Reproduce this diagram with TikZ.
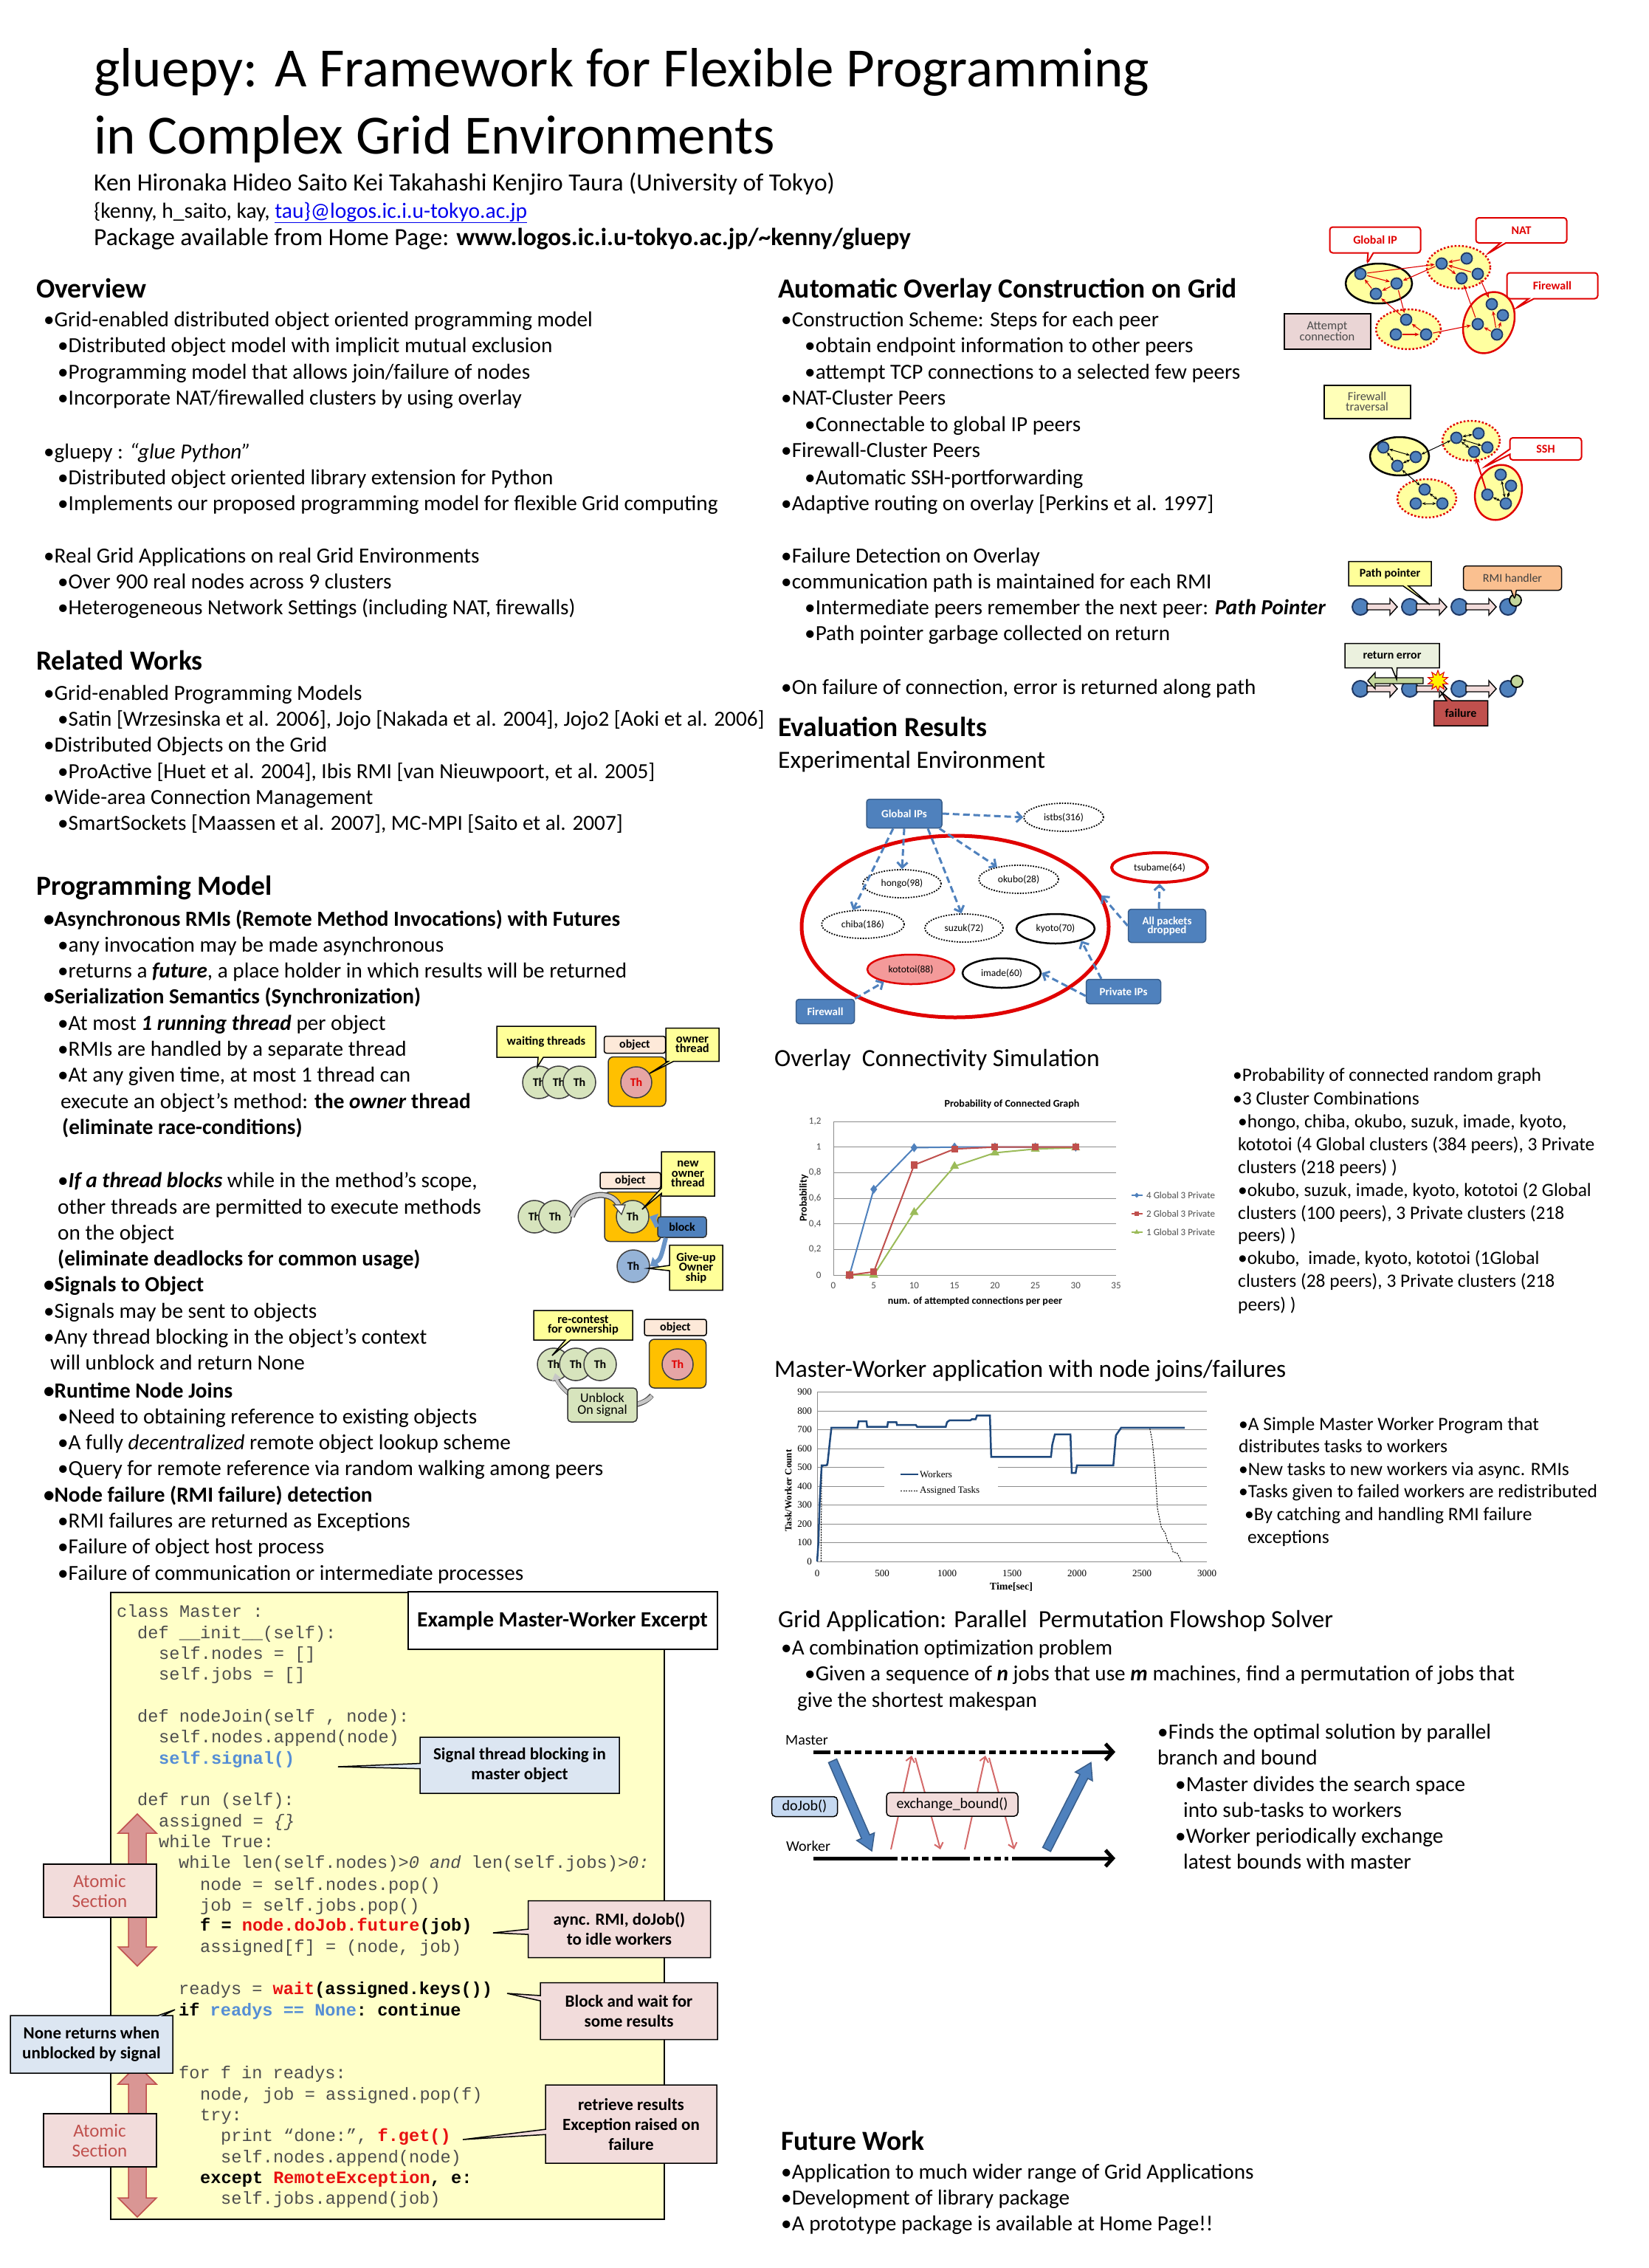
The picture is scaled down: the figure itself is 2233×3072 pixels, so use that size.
\documentclass[tikz,border=0pt]{standalone}
\usepackage{fontspec}
\setmainfont{Carlito}
\setmonofont{Liberation Mono}
\newfontfamily\timesf{Liberation Serif}
\usetikzlibrary{shapes.callouts,shapes.geometric,arrows.meta,plotmarks,calc}
\definecolor{nblue}{HTML}{4F81BD}
\definecolor{nnavy}{HTML}{1F3864}
\definecolor{bdark}{HTML}{385D8A}
\definecolor{yfill}{HTML}{FFFFA0}
\definecolor{cyel}{HTML}{FFFF99}
\definecolor{pinkf}{HTML}{F2DCDB}
\definecolor{lbluef}{HTML}{DCE6F2}
\definecolor{codebg}{HTML}{FFFFC8}
\definecolor{codegray}{HTML}{4D4D4D}
\definecolor{codeblue}{HTML}{558ED5}
\definecolor{codered}{HTML}{E81010}
\definecolor{linkblue}{HTML}{0000EE}
\definecolor{redc}{HTML}{E00000}
\definecolor{thgreen}{HTML}{D7E4BD}
\definecolor{thpink}{HTML}{E6A5A5}
\definecolor{objor}{HTML}{FFC000}
\definecolor{objlab}{HTML}{FDE9D9}
\definecolor{thblue}{HTML}{95B3D7}
\definecolor{arrpink}{HTML}{D99694}
\definecolor{arrdred}{HTML}{C0504D}
\definecolor{gridc}{HTML}{8C8C8C}
\definecolor{c1blue}{HTML}{4F81BD}
\definecolor{c1red}{HTML}{C0504D}
\definecolor{c1green}{HTML}{9BBB59}
\definecolor{wnavy}{HTML}{1F497D}
\definecolor{kotof}{HTML}{F49A9A}
\definecolor{orangef}{HTML}{FAC090}
\definecolor{retf}{HTML}{EBF1DE}
\definecolor{gretarr}{HTML}{C3D69B}
\definecolor{attf}{HTML}{EAD5D5}
\definecolor{dojobf}{HTML}{C6D9F1}
\definecolor{redthin}{HTML}{D46A6A}
\newcounter{tln}
\newcommand\Tx[3]{\stepcounter{tln}\node[txt] (tx\arabic{tln}) at (#1,#2) {#3};}
\newcommand\Hd[3]{\stepcounter{tln}\node[hd] (tx\arabic{tln}) at (#1,#2) {#3};}
\newcommand\Sx[3]{\stepcounter{tln}\node[stx] (tx\arabic{tln}) at (#1,#2) {#3};}
\newcommand\Ssub[3]{\stepcounter{tln}\node[subh] (tx\arabic{tln}) at (#1,#2) {#3};}
\newcommand\codeln[3]{\stepcounter{tln}\node[code] (cl\arabic{tln}) at (#1,#2) {#3};}
\newcommand\kb[1]{\textbf{\textcolor{black}{#1}}}
\newcommand\bi[1]{\textbf{\textit{#1}}}
\newcommand\fsz[1]{\fontsize{#1}{#1}\selectfont}
\tikzset{
 txt/.style={anchor=base west, inner sep=0pt, font=\fontsize{29.2}{35}\selectfont},
 hd/.style={anchor=base west, inner sep=0pt, font=\fontsize{37.5}{44}\selectfont\bfseries},
 subh/.style={anchor=base west, inner sep=0pt, font=\fontsize{33.5}{40}\selectfont},
 stx/.style={anchor=base west, inner sep=0pt, font=\fontsize{25.5}{30}\selectfont},
 code/.style={anchor=base west, inner sep=0pt, font=\fontsize{23.6}{28}\ttfamily, text=codegray},
 co/.style={rectangle callout, draw=black, line width=1.5pt, align=center, inner sep=1pt},
 rco/.style={rectangle callout, draw=redc, line width=2pt, fill=white, align=center, inner sep=1pt, rounded corners=4pt, text=redc, font=\fsz{16}\bfseries},
 peer/.style={circle, fill=nblue, draw=nnavy, line width=1.8pt, minimum size=15pt, inner sep=0pt},
 clg/.style={ellipse, fill=yfill, draw=black, line width=2.5pt},
 cldot/.style={ellipse, fill=yfill, draw=redc, line width=2.5pt, dash pattern=on 2.5pt off 2.5pt},
 clfw/.style={ellipse, fill=yfill, draw=redc, line width=2.5pt},
 rarr/.style={redc, line width=1.1pt, -{Stealth[length=6pt,width=5pt]}, shorten >=1pt, shorten <=1pt},
 barr/.style={black, line width=1pt, {Stealth[length=5pt,width=4pt]}-{Stealth[length=5pt,width=4pt]}},
 netbox/.style={rounded corners=4pt, fill=nblue, draw=bdark, line width=1.5pt, text=white, font=\fsz{15}\bfseries, align=center, inner sep=1pt},
 netell/.style={ellipse, draw=black, line width=1.8pt, dash pattern=on 1.8pt off 1.8pt, font=\fsz{13.5}, inner sep=0pt},
 bda/.style={nblue, line width=3pt, dash pattern=on 9pt off 5pt, -{Straight Barb[length=7pt,width=14pt]}},
 th/.style={circle, fill=thgreen, draw=black!75, line width=1.5pt, minimum size=44pt, inner sep=0pt, font=\fsz{16}\bfseries},
 objl/.style={rounded corners=3pt, fill=objlab, draw=black, line width=1.5pt, font=\fsz{16}\bfseries, inner sep=0pt},
 objb/.style={rounded corners=7pt, fill=objor, draw=black!80, line width=1.5pt},
 ycall/.style={co, fill=cyel, font=\fsz{16.5}\bfseries},
 ccall/.style={co, font=\fsz{23}\bfseries},
 chl/.style={font=\fsz{13}, text=black!70},
}
\begin{document}
\begin{tikzpicture}[x=1pt,y=-1pt]
\useasboundingbox (0,0) rectangle (2233,3072);
\fill[white] (0,0) rectangle (2233,3072);

% ---------------- Title block ----------------
\node[anchor=base west, inner sep=0pt, font=\fsz{75}] (title1) at (127,118) {gluepy: A Framework for Flexible Programming};
\node[anchor=base west, inner sep=0pt, font=\fsz{75}] (title2) at (127,208) {in Complex Grid Environments};
\node[anchor=base west, inner sep=0pt, font=\fsz{33.5}] (auth) at (127,258) {Ken Hironaka Hideo Saito Kei Takahashi Kenjiro Taura (University of Tokyo)};
\node[anchor=base west, inner sep=0pt, font=\fsz{29.5}] (mail) at (127,295) {\{kenny, h\_saito, kay, \textcolor{linkblue}{\underline{tau\}@logos.ic.i.u-tokyo.ac.jp}}};
\node[anchor=base west, inner sep=0pt, font=\fsz{33.5}] (pkg) at (127,332) {Package available from Home Page: \textbf{www.logos.ic.i.u-tokyo.ac.jp/\textasciitilde kenny/gluepy}};

% ---------------- Left column ----------------
\Hd{49}{403}{Overview}
\Tx{59}{442}{•Grid-enabled distributed object oriented programming model}
\Tx{78}{477}{•Distributed object model with implicit mutual exclusion}
\Tx{78}{513}{•Programming model that allows join/failure of nodes}
\Tx{78}{548}{•Incorporate NAT/firewalled clusters by using overlay}
\Tx{59}{621}{•gluepy : \textit{“glue Python”}}
\Tx{78}{656}{•Distributed object oriented library extension for Python}
\Tx{78}{691}{•Implements our proposed programming model for flexible Grid computing}
\Tx{59}{762}{•Real Grid Applications on real Grid Environments}
\Tx{78}{797}{•Over 900 real nodes across 9 clusters}
\Tx{78}{832}{•Heterogeneous Network Settings (including NAT, firewalls)}
\Hd{49}{907}{Related Works}
\Tx{59}{948}{•Grid-enabled Programming Models}
\Tx{78}{983}{•Satin [Wrzesinska et al. 2006], Jojo [Nakada et al. 2004], Jojo2 [Aoki et al. 2006]}
\Tx{59}{1018}{•Distributed Objects on the Grid}
\Tx{78}{1054}{•ProActive [Huet et al. 2004], Ibis RMI [van Nieuwpoort, et al. 2005]}
\Tx{59}{1089}{•Wide-area Connection Management}
\Tx{78}{1124}{•SmartSockets [Maassen et al. 2007], MC-MPI [Saito et al. 2007]}
\Hd{49}{1212}{Programming Model}
\Tx{59}{1254}{\textbf{•Asynchronous RMIs (Remote Method Invocations) with Futures}}
\Tx{78}{1289}{•any invocation may be made asynchronous}
\Tx{78}{1324}{•returns a \bi{future}, a place holder in which results will be returned}
\Tx{59}{1359}{\textbf{•Serialization Semantics (Synchronization)}}
\Tx{78}{1395}{•At most \bi{1 running thread} per object}
\Tx{78}{1430}{•RMIs are handled by a separate thread}
\Tx{78}{1465}{•At any given time, at most 1 thread can}
\Tx{82}{1501}{execute an object’s method: \textbf{the \textit{owner} thread}}
\Tx{84}{1536}{\textbf{(eliminate race-conditions)}}
\Tx{78}{1608}{•\bi{If a thread blocks} while in the method’s scope,}
\Tx{78}{1644}{other threads are permitted to execute methods}
\Tx{78}{1679}{on the object}
\Tx{78}{1714}{\textbf{(eliminate deadlocks for common usage)}}
\Tx{59}{1749}{\textbf{•Signals to Object}}
\Tx{59}{1785}{•Signals may be sent to objects}
\Tx{59}{1820}{•Any thread blocking in the object’s context}
\Tx{68}{1855}{will unblock and return None}
\Tx{59}{1893}{\textbf{•Runtime Node Joins}}
\Tx{78}{1928}{•Need to obtaining reference to existing objects}
\Tx{78}{1963}{•A fully \textit{decentralized} remote object lookup scheme}
\Tx{78}{1998}{•Query for remote reference via random walking among peers}
\Tx{59}{2034}{\textbf{•Node failure (RMI failure) detection}}
\Tx{78}{2069}{•RMI failures are returned as Exceptions}
\Tx{78}{2104}{•Failure of object host process}
\Tx{78}{2140}{•Failure of communication or intermediate processes}

% ---------------- Right column text ----------------
\Hd{1054}{403}{Automatic Overlay Construction on Grid}
\Tx{1058}{442}{•Construction Scheme: Steps for each peer}
\Tx{1090}{477}{•obtain endpoint information to other peers}
\Tx{1090}{513}{•attempt TCP connections to a selected few peers}
\Tx{1058}{548}{•NAT-Cluster Peers}
\Tx{1090}{584}{•Connectable to global IP peers}
\Tx{1058}{619}{•Firewall-Cluster Peers}
\Tx{1090}{656}{•Automatic SSH-portforwarding}
\Tx{1058}{691}{•Adaptive routing on overlay [Perkins et al. 1997]}
\Tx{1058}{762}{•Failure Detection on Overlay}
\Tx{1058}{797}{•communication path is maintained for each RMI}
\Tx{1090}{832}{•Intermediate peers remember the next peer: \bi{Path Pointer}}
\Tx{1090}{867}{•Path pointer garbage collected on return}
\Tx{1058}{940}{•On failure of connection, error is returned along path}
\Hd{1054}{997}{Evaluation Results}
\Ssub{1054}{1040}{Experimental Environment}
\Ssub{1049}{1444}{Overlay\ \ Connectivity Simulation}
\Ssub{1049}{1865}{Master-Worker application with node joins/failures}
\Ssub{1054}{2204}{Grid Application: Parallel\ \ Permutation Flowshop Solver}
\Tx{1058}{2241}{•A combination optimization problem}
\Tx{1090}{2276}{•Given a sequence of \bi{n} jobs that use \bi{m} machines, find a permutation of jobs that}
\Tx{1080}{2312}{give the shortest makespan}
\Hd{1058}{2912}{Future Work}
\Tx{1058}{2951}{•Application to much wider range of Grid Applications}
\Tx{1058}{2986}{•Development of library package}
\Tx{1058}{3021}{•A prototype package is available at Home Page!!}

\Sx{1670}{1464}{•Probability of connected random graph}
\Sx{1670}{1496}{•3 Cluster Combinations}
\Sx{1677}{1527}{•hongo, chiba, okubo, suzuk, imade, kyoto,}
\Sx{1677}{1558}{kototoi (4 Global clusters (384 peers), 3 Private}
\Sx{1677}{1589}{clusters (218 peers) )}
\Sx{1677}{1620}{•okubo, suzuk, imade, kyoto, kototoi (2 Global}
\Sx{1677}{1651}{clusters (100 peers), 3 Private clusters (218}
\Sx{1677}{1681}{peers) )}
\Sx{1677}{1712}{•okubo,\ \ imade, kyoto, kototoi (1Global}
\Sx{1677}{1743}{clusters (28 peers), 3 Private clusters (218}
\Sx{1677}{1775}{peers) )}

\Sx{1678}{1937}{•A Simple Master Worker Program that}
\Sx{1678}{1967}{distributes tasks to workers}
\Sx{1678}{1998}{•New tasks to new workers via async. RMIs}
\Sx{1678}{2028}{•Tasks given to failed workers are redistributed}
\Sx{1686}{2059}{•By catching and handling RMI failure}
\Sx{1690}{2090}{exceptions}

\Tx{1568}{2355}{•Finds the optimal solution by parallel}
\Tx{1568}{2390}{branch and bound}
\Tx{1592}{2426}{•Master divides the search space}
\Tx{1603}{2461}{into sub-tasks to workers}
\Tx{1592}{2496}{•Worker periodically exchange}
\Tx{1603}{2531}{latest bounds with master}

% ---------------- Overlay diagram 1 ----------------
\node[co, fill=attf, line width=2pt, minimum width=117pt, minimum height=48pt, font=\fsz{16.5}, text=black!70, rectangle] (attempt) at (1798,449) {Attempt\\[-2pt]connection};
\node[clg, minimum width=90pt, minimum height=54pt] (elA) at (1868,384) {};
\node[cldot, minimum width=86pt, minimum height=58pt] (elB) at (1976,362) {};
\node[cldot, minimum width=88pt, minimum height=54pt] (elC) at (1908,446) {};
\node[clfw, minimum width=66pt, minimum height=86pt, rotate=-25] (elD) at (2017,437) {};
\node[rco, minimum width=123pt, minimum height=35pt, callout absolute pointer={(1852,357)}] (cgip) at (1863,325) {Global IP};
\node[rco, minimum width=123pt, minimum height=34pt, callout absolute pointer={(2015,344)}] (cnat) at (2061,312) {NAT};
\node[rco, minimum width=123pt, minimum height=35pt, callout absolute pointer={(2053,418)}] (cfw) at (2103,387) {Firewall};
\node[peer] (a1) at (1843,371) {};
\node[peer] (a2) at (1892,384) {};
\node[peer] (a3) at (1864,398) {};
\node[peer] (b1) at (1953,357) {};
\node[peer] (b2) at (1987,350) {};
\node[peer] (b3) at (2002,371) {};
\node[peer] (b4) at (1980,377) {};
\node[peer] (c1) at (1905,433) {};
\node[peer] (c2) at (1891,453) {};
\node[peer] (c3) at (1932,453) {};
\node[peer] (d1) at (2021,412) {};
\node[peer] (d2) at (2036,427) {};
\node[peer] (d3) at (2002,439) {};
\node[peer] (d4) at (2028,453) {};
\draw[rarr] (a1) -- (b1);
\draw[rarr] (b1) -- (a2);
\draw[rarr] (a1) -- (a2);
\draw[rarr] (a2) -- (a3);
\draw[rarr] (a3) -- (a1);
\draw[rarr] (b2) -- (b1);
\draw[rarr] (b3) -- (b1);
\draw[rarr] (b1) -- (b4);
\draw[rarr] (a2) -- (c1);
\draw[rarr] (c1) -- (a3);
\draw[rarr] (c3) -- (c1);
\draw[rarr] (c2) -- (c3);
\draw[rarr] (c3) -- (d3);
\draw[rarr] (d3) -- (b4);
\draw[rarr] (b3) -- (d1);
\draw[rarr] (d4) -- (d3);
\draw[rarr] (d4) -- (d1);
\draw[rarr] (d4) -- (d2);

% ---------------- Overlay diagram 2 ----------------
\node[co, rectangle, fill=cyel!70, line width=2pt, minimum width=117pt, minimum height=45pt, font=\fsz{16.5}, text=black!70] (fwt) at (1852,544) {Firewall\\[-2pt]traversal};
\node[clg, minimum width=80pt, minimum height=52pt] (elE) at (1896,618) {};
\node[cldot, minimum width=78pt, minimum height=54pt] (elF) at (1993,597) {};
\node[cldot, minimum width=80pt, minimum height=52pt] (elG) at (1933,675) {};
\node[clfw, minimum width=62pt, minimum height=76pt, rotate=-20] (elH) at (2030,667) {};
\node[rco, minimum width=97pt, minimum height=30pt, callout absolute pointer={(2010,633)}] (cssh) at (2094,608) {SSH};
\node[peer] (e1) at (1874,606) {};
\node[peer] (e2) at (1918,619) {};
\node[peer] (e3) at (1893,631) {};
\node[peer] (f1) at (1973,593) {};
\node[peer] (f2) at (2003,587) {};
\node[peer] (f3) at (2015,606) {};
\node[peer] (f4) at (1997,612) {};
\node[peer] (g1) at (1930,663) {};
\node[peer] (g2) at (1918,682) {};
\node[peer] (g3) at (1954,682) {};
\node[peer] (h1) at (2033,643) {};
\node[peer] (h2) at (2047,658) {};
\node[peer] (h3) at (2015,670) {};
\node[peer] (h4) at (2040,682) {};
\draw[barr] (e1) -- (e2);
\draw[barr] (e1) -- (e3);
\draw[barr] (e2) -- (e3);
\draw[barr] (e2) -- (f1);
\draw[barr] (e3) -- (g1);
\draw[barr] (f1) -- (f2);
\draw[barr] (f1) -- (f3);
\draw[barr] (f1) -- (f4);
\draw[barr] (g1) -- (g3);
\draw[barr] (g2) -- (g3);
\draw[barr] (h1) -- (h4);
\draw[barr] (h2) -- (h4);
\draw[barr] (h3) -- (h4);
\draw[redc, line width=2pt, -{Stealth[length=8pt,width=7pt]}] (h3) -- (f4);

% ---------------- Path pointer diagram ----------------
\foreach \i/\xx in {1/1843,2/1910,3/1977,4/2043} {
  \node[peer, minimum size=22pt, line width=2pt] (pp\i) at (\xx,822) {};
  \node[peer, minimum size=22pt, line width=2pt] (pq\i) at (\xx,933) {};
}
\node[circle, fill=gretarr, draw=black, line width=1.8pt, minimum size=16pt, inner sep=0pt] (pg1) at (2053,813) {};
\node[circle, fill=gretarr, draw=black, line width=1.8pt, minimum size=16pt, inner sep=0pt] (pg2) at (2055,923) {};
\foreach \xa in {1852,1919,1986} {
  \draw[fill=pinkf, draw=black, line width=1.4pt] (\xa,818) -- (\xa+31,818) -- (\xa+31,811) -- (\xa+41,822) -- (\xa+31,833) -- (\xa+31,826) -- (\xa,826) -- cycle;
  \draw[fill=pinkf, draw=black, line width=1.4pt] (\xa,929) -- (\xa+31,929) -- (\xa+31,922) -- (\xa+41,933) -- (\xa+31,944) -- (\xa+31,937) -- (\xa,937) -- cycle;
}
\draw[fill=gretarr, draw=black, line width=1.4pt] (1928,918) -- (1863,918) -- (1863,911) -- (1853,922) -- (1863,933) -- (1863,926) -- (1928,926) -- cycle;
\node[star, star points=10, star point ratio=1.8, fill=yellow, draw=redc, line width=1pt, minimum size=28pt, inner sep=1pt] (boom) at (1948,922) {};
\node[co, fill=cyel, font=\fsz{16}\bfseries, minimum width=112pt, minimum height=33pt, callout absolute pointer={(1937,819)}] (cpp) at (1883,777) {Path pointer};
\node[co, fill=orangef, rounded corners=4pt, minimum width=133pt, minimum height=33pt, font=\fsz{16}, text=black!75, callout absolute pointer={(2052,812)}] (crmi) at (2049,783) {RMI handler};
\node[co, fill=retf, minimum width=128pt, minimum height=33pt, font=\fsz{16}\bfseries, callout absolute pointer={(1892,920)}] (cret) at (1886,888) {return error};
\node[co, fill=arrdred, minimum width=73pt, minimum height=34pt, font=\fsz{16}\bfseries, callout absolute pointer={(1952,937)}] (cfail) at (1979,966) {failure};

% ---------------- Network diagram ----------------
\node[ellipse, draw=redc, line width=5pt, minimum width=416pt, minimum height=246pt] (bigE) at (1294,1255) {};
\node[netbox, minimum width=102pt, minimum height=39pt] (gips) at (1225,1102) {Global IPs};
\node[netell, minimum width=108pt, minimum height=38pt] (istbs) at (1441,1107) {istbs(316)};
\node[netell, minimum width=106pt, minimum height=38pt] (hongo) at (1222,1197) {hongo(98)};
\node[netell, minimum width=108pt, minimum height=38pt] (okubo) at (1380,1191) {okubo(28)};
\node[netell, minimum width=112pt, minimum height=38pt] (chiba) at (1169,1252) {chiba(186)};
\node[netell, minimum width=106pt, minimum height=38pt] (suzuk) at (1306,1257) {suzuk(72)};
\node[ellipse, draw=black, line width=2.5pt, minimum width=106pt, minimum height=40pt, font=\fsz{13.5}, inner sep=0pt] (kyoto) at (1430,1258) {kyoto(70)};
\node[ellipse, draw=redc, fill=kotof, line width=2.5pt, minimum width=118pt, minimum height=40pt, font=\fsz{13.5}, inner sep=0pt] (koto) at (1234,1313) {kototoi(88)};
\node[ellipse, draw=black, line width=2.5pt, minimum width=106pt, minimum height=40pt, font=\fsz{13.5}, inner sep=0pt] (imade) at (1357,1318) {imade(60)};
\node[ellipse, draw=redc, line width=4pt, minimum width=130pt, minimum height=40pt, font=\fsz{13.5}, inner sep=0pt] (tsub) at (1571,1175) {tsubame(64)};
\node[netbox, minimum width=105pt, minimum height=45pt] (apd) at (1581,1254) {All packets\\[-3pt]dropped};
\node[netbox, minimum width=101pt, minimum height=33pt] (pips) at (1522,1343) {Private IPs};
\node[netbox, minimum width=79pt, minimum height=33pt] (fwb) at (1118,1370) {Firewall};
\draw[bda] (gips.east) -- (istbs.west);
\draw[bda] ([xshift=-15pt]gips.south) -- (chiba.125);
\draw[bda] (gips.south) -- (hongo.north);
\draw[bda] ([xshift=32pt]gips.south) -- (suzuk.100);
\draw[bda] ([xshift=-4pt]gips.south east) -- (okubo.150);
\draw[bda] ([xshift=-11pt]apd.north) -- (tsub.south);
\draw[bda] (apd.west) -- (bigE.12);
\draw[bda] ([xshift=-30pt]pips.north) -- (kyoto.-25);
\draw[bda] ([yshift=-6pt]pips.west) -- (imade.east);
\draw[bda] (fwb.north east) -- (koto.205);

% ---------------- Chart 1 ----------------
\node[font=\fsz{14}\bfseries, inner sep=0pt] (c1title) at (1371,1496) {Probability of Connected Graph};
\begin{scope}[shift={(1129,1727)}, x=10.943pt, y=173.33pt]
\foreach \p in {0,0.2,0.4,0.6,0.8,1,1.2} { \draw[gridc, line width=1pt] (0,\p) -- (35,\p); }
\draw[gridc, line width=1pt] (0,0) -- (0,1.2);
\foreach \p/\l in {0/0,0.2/{0,2},0.4/{0,4},0.6/{0,6},0.8/{0,8},1/1,1.2/{1,2}} { \node[chl, anchor=east] at (-1.2,\p) {\l}; }
\foreach \v in {0,5,10,15,20,25,30,35} { \node[chl] at (\v,-0.08) {\v}; }
\draw[c1blue, line width=2pt, mark=diamond*, mark size=4.5pt, mark options={fill=c1blue}] plot coordinates {(2,0) (5,0.67) (10,0.995) (15,1) (20,1) (25,1) (30,1)};
\draw[c1green, line width=2pt, mark=triangle*, mark size=5pt, mark options={fill=c1green}] plot coordinates {(2,0) (5,0) (10,0.49) (15,0.85) (20,0.955) (25,0.985) (30,0.995)};
\draw[c1red, line width=2pt, mark=square*, mark size=3.6pt, mark options={fill=c1red}] plot coordinates {(2,0) (5,0.025) (10,0.86) (15,0.985) (20,1) (25,1) (30,1)};
\end{scope}
\node[font=\fsz{14}\bfseries, inner sep=0pt] (c1xt) at (1321,1763) {num. of attempted connections per peer};
\node[font=\fsz{14}\bfseries, inner sep=0pt, rotate=90] (c1yt) at (1089,1623) {Probability};
\draw[c1blue, line width=2pt] (1533,1619) -- (1548,1619);
\node[c1blue, diamond, fill, inner sep=0pt, minimum size=7pt] (lg1) at (1540,1619) {};
\node[chl, anchor=west, inner sep=0pt] (lt1) at (1553,1619) {4 Global 3 Private};
\draw[c1red, line width=2pt] (1533,1644) -- (1548,1644);
\node[c1red, rectangle, fill, inner sep=0pt, minimum size=6pt] (lg2) at (1540,1644) {};
\node[chl, anchor=west, inner sep=0pt] (lt2) at (1553,1644) {2 Global 3 Private};
\draw[c1green, line width=2pt] (1533,1669) -- (1548,1669);
\node[c1green, regular polygon, regular polygon sides=3, fill, inner sep=0pt, minimum size=8pt] (lg3) at (1540,1669) {};
\node[chl, anchor=west, inner sep=0pt] (lt3) at (1553,1669) {1 Global 3 Private};

% ---------------- Chart 2 ----------------
\begin{scope}[shift={(1107,2115)}, x=0.176pt, y=0.255pt]
\foreach \c in {100,200,300,400,500,600,700,800,900} { \draw[gridc, line width=1pt] (0,\c) -- (3000,\c); }
\draw[gridc, line width=1pt] (0,0) -- (0,900);
\draw[gridc, line width=1pt] (0,0) -- (3000,0);
\foreach \c in {0,100,200,300,400,500,600,700,800,900} { \node[font=\fsz{13}\timesf, anchor=east, inner sep=0pt] at (-40,\c) {\c}; }
\foreach \t in {0,500,1000,1500,2000,2500,3000} { \node[font=\fsz{13}\timesf, inner sep=0pt] at (\t,-62) {\t}; }
\fill[white] (517,355) rectangle (1392,510);
\draw[black, line width=1pt, dash pattern=on 2pt off 1.5pt] plot coordinates {(30,0) (35,505) (80,510) (100,650) (110,710) (310,710) (320,745) (380,745) (385,715) (540,715) (545,740) (610,740) (615,725) (760,725) (770,715) (990,715) (1000,740) (1020,750) (1180,750) (1190,755) (1220,755) (1230,775) (1330,775) (1340,555) (1800,555) (1810,620) (1830,675) (1950,675) (1960,470) (1990,470) (2000,510) (2280,510) (2300,670) (2340,710) (2560,710) (2580,640) (2600,500) (2610,400) (2620,280) (2650,180) (2680,150) (2700,100) (2720,95) (2740,50) (2770,45) (2790,20) (2800,0) (2810,0)};
\draw[wnavy, line width=2.5pt] plot coordinates {(0,0) (10,100) (15,220) (20,320) (30,450) (35,510) (70,510) (80,520) (100,650) (110,710) (310,710) (320,745) (380,745) (385,715) (540,715) (545,740) (610,740) (615,725) (760,725) (770,715) (990,715) (1000,740) (1020,750) (1180,750) (1190,755) (1220,755) (1230,775) (1330,775) (1340,555) (1800,555) (1810,620) (1830,675) (1950,675) (1960,470) (1990,470) (2000,510) (2280,510) (2300,670) (2340,710) (2830,710)};
\end{scope}
\draw[wnavy, line width=2.5pt] (1220,1997) -- (1244,1997);
\node[font=\fsz{13}\timesf, anchor=west, inner sep=0pt] (lw) at (1246,1997) {Workers};
\draw[black, line width=1pt, dash pattern=on 2pt off 1.5pt] (1220,2019) -- (1244,2019);
\node[font=\fsz{13}\timesf, anchor=west, inner sep=0pt] (la) at (1246,2019) {Assigned Tasks};
\node[font=\fsz{14}\timesf\bfseries, inner sep=0pt] (c2xt) at (1370,2150) {Time[sec]};
\node[font=\fsz{13}\timesf\bfseries, inner sep=0pt, rotate=90] (c2yt) at (1068,2019) {Task/Worker Count};

% ---------------- Thread diagram A ----------------
\node[th] (ta1) at (730,1466) {Th};
\node[th] (ta2) at (757,1466) {Th};
\node[th] (ta3) at (785,1466) {Th};
\node[objl, minimum width=83pt, minimum height=23pt] (oal) at (860,1415) {object};
\node[objb, minimum width=78pt, minimum height=67pt] (oab) at (863,1465) {};
\node[th, fill=thpink, minimum size=42pt, text=redc] (tao) at (862,1466) {Th};
\node[ycall, minimum width=134pt, minimum height=42pt, callout absolute pointer={(728,1445)}] (cwt) at (740,1411) {waiting threads};
\node[ycall, minimum width=72pt, minimum height=45pt, callout absolute pointer={(880,1454)}] (cot) at (938,1415) {owner\\[-3pt]thread};

% ---------------- Thread diagram B ----------------
\node[th] (tb1) at (724,1648) {Th};
\node[th] (tb2) at (752,1648) {Th};
\node[objl, minimum width=82pt, minimum height=22pt] (obl) at (854,1599) {object};
\node[objb, minimum width=76pt, minimum height=67pt] (obb) at (857,1648) {};
\node[th] (tbo) at (857,1648) {Th};
\draw[black!75, line width=8pt] (tb2.east) .. controls (785,1615) and (828,1610) .. (838,1632);
\draw[gray!40, line width=5.5pt] (tb2.east) .. controls (785,1615) and (828,1610) .. (838,1632);
\draw[black!75, line width=1.2pt, fill=white] (831,1632) -- (847,1632) -- (842,1645) -- cycle;
\node[netbox, text=black, minimum width=66pt, minimum height=28pt, draw=black!80, font=\fsz{16}\bfseries] (blk) at (924,1662) {block};
\node[th, fill=thblue] (tbb) at (858,1715) {Th};
\draw[nblue!85, line width=6pt, -{Triangle[length=10pt,width=16pt]}] (blk.west) .. controls (885,1650) .. (tbo.east);
\draw[nblue!85, line width=6pt, -{Triangle[length=10pt,width=16pt]}] ([xshift=-22pt]blk.south) .. controls (895,1705) .. (tbb.east);
\node[ycall, minimum width=72pt, minimum height=60pt, callout absolute pointer={(870,1638)}] (cnot) at (932,1590) {new\\[-3pt]owner\\[-3pt]thread};
\node[ycall, minimum width=72pt, minimum height=61pt, callout absolute pointer={(878,1718)}] (cgup) at (943,1717) {Give-up\\[-3pt]Owner\\[-3pt]ship};

% ---------------- Thread diagram C ----------------
\node[th] (tc1) at (750,1848) {Th};
\node[th] (tc2) at (780,1848) {Th};
\node[th] (tc3) at (813,1848) {Th};
\node[objl, minimum width=84pt, minimum height=22pt] (ocl) at (915,1798) {object};
\node[objb, minimum width=77pt, minimum height=66pt] (ocb) at (918,1847) {};
\node[th, fill=thpink, minimum size=42pt, text=redc] (tco) at (918,1848) {Th};
\node[ycall, minimum width=134pt, minimum height=40pt, callout absolute pointer={(748,1836)}] (crc) at (790,1795) {re-contest\\[-3pt]for ownership};
\draw[black!70, line width=6pt] (774,1890) .. controls (760,1880) and (755,1870) .. (753,1866);
\draw[gray!45, line width=4pt, -{Triangle[length=9pt,width=13pt]}] (776,1892) .. controls (760,1880) and (755,1872) .. (752,1860);
\draw[black!70, line width=7pt] (860,1903) .. controls (872,1900) and (878,1896) .. (883,1890);
\draw[gray!45, line width=5pt] (858,1903) .. controls (872,1900) and (878,1896) .. (883,1891);
\node[rectangle, rounded corners=5pt, fill=thgreen, draw=black!80, line width=1.5pt, minimum width=94pt, minimum height=46pt, align=center, font=\fsz{18}, inner sep=0pt] (unb) at (816,1903) {Unblock\\[-2pt]On signal};

% ---------------- Code block ----------------
\node[rectangle, draw=black, line width=2pt, fill=codebg, minimum width=750pt, minimum height=849pt, inner sep=0pt] (codebox) at (525,2581) {};
\codeln{158}{2190}{class Master :}
\codeln{186}{2219}{def \_\_init\_\_(self):}
\codeln{215}{2247}{self.nodes = []}
\codeln{215}{2275}{self.jobs = []}
\codeln{186}{2332}{def nodeJoin(self , node):}
\codeln{215}{2360}{self.nodes.append(node)}
\codeln{215}{2389}{\textcolor{codeblue}{\textbf{self.signal()}}}
\codeln{186}{2445}{def run (self):}
\codeln{215}{2474}{assigned = \textit{\{\}}}
\codeln{215}{2502}{while True:}
\codeln{242}{2530}{while len(self.nodes)\textit{>0 and} len(self.jobs)\textit{>0:}}
\codeln{271}{2560}{node = self.nodes.pop()}
\codeln{271}{2588}{job = self.jobs.pop()}
\codeln{271}{2615}{\kb{f = }\textbf{\textcolor{codered}{node.doJob.future}}\kb{(job)}}
\codeln{271}{2644}{assigned[f] = (node, job)}
\codeln{242}{2701}{readys = \textbf{\textcolor{codered}{wait}}\kb{(assigned.keys())}}
\codeln{242}{2730}{\kb{if }\textbf{\textcolor{codeblue}{readys == None}}\kb{: continue}}
\codeln{242}{2815}{for f in readys:}
\codeln{271}{2844}{node, job = assigned.pop(f)}
\codeln{271}{2872}{try:}
\codeln{299}{2900}{print “done:”, \textbf{\textcolor{codered}{f.get()}}}
\codeln{299}{2929}{self.nodes.append(node)}
\codeln{271}{2957}{\kb{except }\textbf{\textcolor{codered}{RemoteException}}\kb{, e:}}
\codeln{299}{2985}{self.jobs.append(job)}

\draw[fill=arrpink, draw=arrdred, line width=1.5pt] (186,2457) -- (212,2483) -- (198,2483) -- (198,2637) -- (212,2637) -- (186,2663) -- (160,2637) -- (174,2637) -- (174,2483) -- (160,2483) -- cycle;
\draw[fill=arrpink, draw=arrdred, line width=1.5pt] (186,2797) -- (212,2823) -- (198,2823) -- (198,2977) -- (212,2977) -- (186,3003) -- (160,2977) -- (174,2977) -- (174,2823) -- (160,2823) -- cycle;
\node[rectangle, fill=pinkf, draw=black, line width=2pt, minimum width=153pt, minimum height=72pt, align=center, font=\fsz{25}, text=arrdred] (at1) at (135,2561) {Atomic\\[2pt]Section};
\node[rectangle, fill=pinkf, draw=black, line width=2pt, minimum width=153pt, minimum height=72pt, align=center, font=\fsz{25}, text=arrdred] (at2) at (135,2899) {Atomic\\[2pt]Section};

\node[rectangle, draw=black, line width=2pt, fill=white, minimum width=419pt, minimum height=78pt, font=\fsz{29.5}\bfseries, inner sep=0pt] (exbox) at (762,2195) {Example Master-Worker Excerpt};
\node[ccall, fill=lbluef, minimum width=270pt, minimum height=76pt, callout absolute pointer={(458,2393)}] (csig) at (704,2391) {Signal thread blocking in\\[4pt]master object};
\node[ccall, fill=pinkf, minimum width=247pt, minimum height=77pt, callout absolute pointer={(668,2618)}] (caync) at (839,2613) {aync. RMI, doJob()\\[4pt]to idle workers};
\node[ccall, fill=pinkf, minimum width=240pt, minimum height=77pt, callout absolute pointer={(687,2700)}] (cblk) at (852,2724) {Block and wait for\\[4pt]some results};
\node[ccall, fill=pinkf, minimum width=232pt, minimum height=106pt, callout absolute pointer={(627,2898)}] (cretr) at (855,2877) {retrieve results\\[4pt]Exception raised on\\[4pt]failure};
\node[ccall, fill=lbluef, minimum width=220pt, minimum height=78pt, callout absolute pointer={(237,2722)}] (cnone) at (124,2769) {None returns when\\[4pt]unblocked by signal};

% ---------------- Flowshop diagram ----------------
\node[anchor=base west, inner sep=0pt, font=\fsz{20}] (mlab) at (1064,2363) {Master};
\node[anchor=base west, inner sep=0pt, font=\fsz{20}] (wlab) at (1065,2507) {Worker};
\coordinate (ms) at (1102,2373);
\coordinate (m1) at (1116,2373);
\coordinate (m2) at (1472,2373);
\coordinate (me) at (1511,2373);
\draw[black, line width=5pt] (ms) -- (m1);
\draw[black, line width=5pt, dash pattern=on 9pt off 5pt] (m1) -- (m2);
\draw[black, line width=5pt, -{Straight Barb[length=10pt,width=22pt]}] (m2) -- (me);
\coordinate (ws) at (1102,2517);
\coordinate (w1) at (1207,2517);
\coordinate (w2) at (1271,2517);
\coordinate (w3) at (1305,2517);
\coordinate (w4) at (1366,2517);
\coordinate (w5) at (1371,2517);
\coordinate (we) at (1511,2517);
\draw[black, line width=5pt] (ws) -- (w1);
\draw[black, line width=5pt, dash pattern=on 9pt off 5pt] (w1) -- (w2);
\draw[black, line width=5pt] (w2) -- (w3);
\draw[black, line width=5pt, dash pattern=on 9pt off 5pt] (w3) -- (w4);
\draw[black, line width=5pt, -{Straight Barb[length=10pt,width=22pt]}] (w5) -- (we);
\foreach \xa in {1207,1307} {
  \draw[redthin, line width=2pt, -{Straight Barb[length=7pt,width=12pt]}] (\xa,2505) -- (\xa+28,2378);
  \draw[redthin, line width=2pt, -{Straight Barb[length=7pt,width=12pt]}] (\xa+33,2381) -- (\xa+67,2505);
}
\draw[fill=nblue, draw=bdark, line width=1.5pt, shift={(1128,2385)}, rotate=-66.5] (0,-6) -- (112,-6) -- (112,-13) -- (133,0) -- (112,13) -- (112,6) -- (0,6) -- cycle;
\draw[fill=nblue, draw=bdark, line width=1.5pt, shift={(1418,2505)}, rotate=63] (0,-6) -- (111,-6) -- (111,-13) -- (132,0) -- (111,13) -- (111,6) -- (0,6) -- cycle;
\node[rectangle, rounded corners=5pt, fill=dojobf, draw=black, line width=1.5pt, minimum width=89pt, minimum height=27pt, font=\fsz{20}, inner sep=0pt] (dojob) at (1090,2447) {doJob()};
\node[rectangle, rounded corners=5pt, fill=pinkf, draw=black, line width=1.5pt, minimum width=178pt, minimum height=32pt, font=\fsz{20}, inner sep=0pt] (exb) at (1290,2444) {exchange\_bound()};
\end{tikzpicture}
\end{document}
